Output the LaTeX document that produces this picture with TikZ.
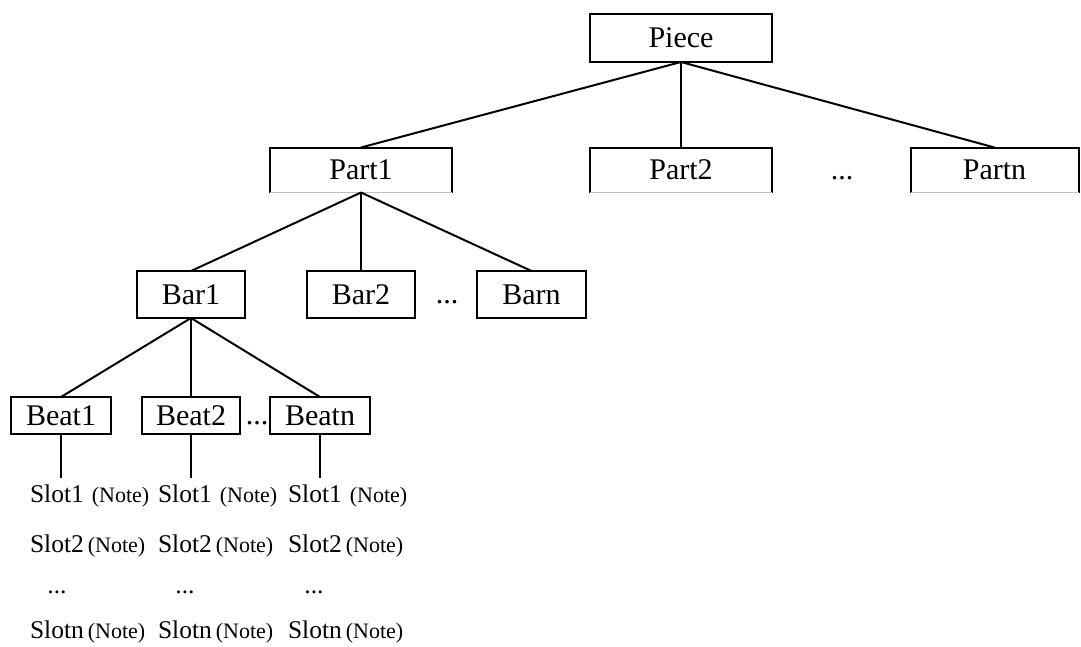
\documentclass[tikz,border=0pt]{standalone}
\usepackage{fontspec}
\setmainfont{Liberation Serif}
\begin{document}
\begin{tikzpicture}[x=1pt,y=-1pt,
  every node/.style={inner sep=0pt,outer sep=0pt},
  lvl/.style={draw,line width=2pt,font=\fontsize{30}{32}\selectfont},
  partbox/.style={font=\fontsize{30}{32}\selectfont,minimum width=182pt,minimum height=45pt},
  link/.style={line width=2pt},
  slotlbl/.style={anchor=west,font=\fontsize{25.5}{27}\selectfont},
  dotlbl/.style={font=\fontsize{25.5}{27}\selectfont},
  bigdots/.style={font=\fontsize{30}{32}\selectfont}]
\useasboundingbox (0,0) rectangle (1081,646);
% level 0
\node[lvl,minimum width=182pt,minimum height=48pt] (piece) at (681,38) {Piece};
% level 1
\node[partbox] (part1) at (361,170) {Part1};
\node[partbox] (part2) at (681,170) {Part2};
\node[partbox,minimum width=168pt] (partn) at (994.5,170) {Partn};
\foreach \p in {part1,part2,partn}{
  \draw[line width=2pt] (\p.south west) -- (\p.north west) -- (\p.north east) -- (\p.south east);
  \draw[line width=0.6pt,black!25] (\p.south west) -- (\p.south east);
}
\node[bigdots] (pdots) at (842,178) {...};
% level 2
\node[lvl,minimum width=108pt,minimum height=47pt] (bar1) at (191,294.5) {Bar1};
\node[lvl,minimum width=108pt,minimum height=47pt] (bar2) at (361,294.5) {Bar2};
\node[lvl,minimum width=109pt,minimum height=47pt] (barn) at (531.5,294.5) {Barn};
\node[bigdots] (bdots) at (447,302) {...};
% level 3
\node[lvl,minimum width=100pt,minimum height=37pt] (beat1) at (61,415.5) {Beat1};
\node[lvl,minimum width=98pt,minimum height=37pt] (beat2) at (191,415.5) {Beat2};
\node[lvl,minimum width=100pt,minimum height=37pt] (beatn) at (320,415.5) {Beatn};
\node[bigdots] (btdots) at (257,423) {...};
% connectors
\draw[link] (piece.south) -- (part1.north);
\draw[link] (piece.south) -- (part2.north);
\draw[link] (piece.south) -- (partn.north);
\draw[link] (part1.south) -- (bar1.north);
\draw[link] (part1.south) -- (bar2.north);
\draw[link] (part1.south) -- (barn.north);
\draw[link] (bar1.south) -- (beat1.north);
\draw[link] (bar1.south) -- (beat2.north);
\draw[link] (bar1.south) -- (beatn.north);
\coordinate (e1) at (61,478);
\coordinate (e2) at (191,478);
\coordinate (e3) at (320,478);
\draw[link] (beat1.south) -- (e1);
\draw[link] (beat2.south) -- (e2);
\draw[link] (beatn.south) -- (e3);
% slots
\foreach \c/\x/\dx in {a/30/57,b/158/185,c/288/314}{
  \node[slotlbl] (s1\c) at (\x,496) {Slot1\hspace{8pt}{\fontsize{22}{23}\selectfont(Note)}};
  \node[slotlbl] (s2\c) at (\x,546) {Slot2\hspace{4pt}{\fontsize{22}{23}\selectfont(Note)}};
  \node[dotlbl] (sd\c) at (\dx,592) {...};
  \node[slotlbl] (sn\c) at (\x,632) {Slotn\hspace{4pt}{\fontsize{22}{23}\selectfont(Note)}};
}
\end{tikzpicture}
\end{document}
